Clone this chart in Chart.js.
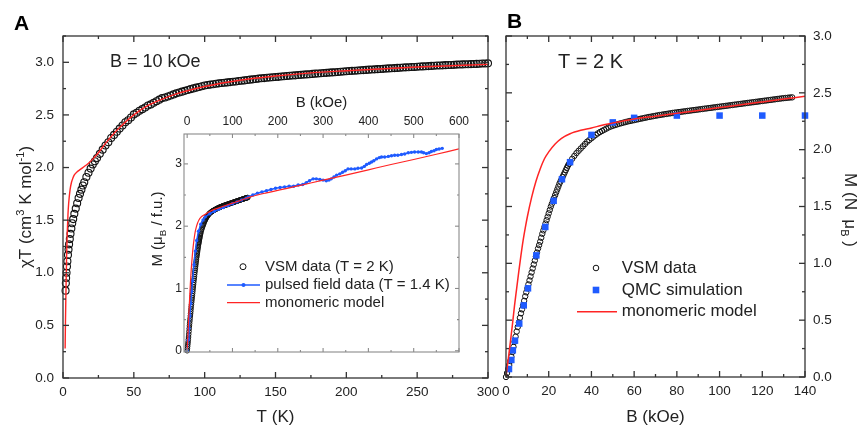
<!DOCTYPE html>
<html>
<head>
<meta charset="utf-8">
<script src="https://cdn.jsdelivr.net/npm/chart.js@4.4.0/dist/chart.umd.min.js"></script>
<style>
  body { margin: 0; background: #fff; }
  #wrap { position: relative; width: 858px; height: 428px; overflow: hidden; background: #fff; }
  canvas { position: absolute; }
</style>
</head>
<body>
<div id="wrap">
  <canvas id="chartA" width="500" height="428" style="left:0;top:0"></canvas>
  <canvas id="inset" width="330" height="270" style="left:140px;top:90px"></canvas>
  <canvas id="chartB" width="368" height="428" style="left:490px;top:0"></canvas>
</div>
<script>
const FONT = "'Liberation Sans', Arial, sans-serif";
const INK = '#222';
const RED = '#ff2424';
const BLUE = '#1f5bff';

// tick labels
const tickT = [0, 50, 100, 150, 200, 250, 300];
const tickChiT = [0, 0.5, 1, 1.5, 2, 2.5, 3];
const tickB = [0, 20, 40, 60, 80, 100, 120, 140];
const tickM = [0, 0.5, 1, 1.5, 2, 2.5, 3];
const tickInsetB = [0, 100, 200, 300, 400, 500, 600];
const tickInsetM = [0, 1, 2, 3];

// panel A: chi*T vs T, B = 10 kOe
const tempK = [1.8, 2.0, 2.2, 2.5, 2.8, 3.1, 3.5, 3.9, 4.3, 4.8,
  5.3, 5.9, 6.5, 7.2, 8, 9, 10, 11, 12, 13,
  14, 15, 16.5, 18, 19.5, 21, 22.5, 24, 26, 28,
  30, 32, 34, 36, 38, 40,
  42, 44, 46, 48, 50, 52, 54, 56, 58, 60,
  62, 64, 66, 68, 70, 72, 74, 76, 78, 80,
  82, 84, 86, 88, 90, 92, 94, 96, 98, 100,
  102, 104, 106, 108, 110, 112, 114, 116, 118, 120,
  122, 124, 126, 128, 130, 132, 134, 136, 138, 140,
  142, 144, 146, 148, 150, 152, 154, 156, 158, 160,
  162, 164, 166, 168, 170, 172, 174, 176, 178, 180,
  182, 184, 186, 188, 190, 192, 194, 196, 198, 200,
  202, 204, 206, 208, 210, 212, 214, 216, 218, 220,
  222, 224, 226, 228, 230, 232, 234, 236, 238, 240,
  242, 244, 246, 248, 250, 252, 254, 256, 258, 260,
  262, 264, 266, 268, 270, 272, 274, 276, 278, 280,
  282, 284, 286, 288, 290, 292, 294, 296, 298, 300];
const chiT = [0.83, 0.90, 0.95, 1.00, 1.06, 1.11, 1.17, 1.22, 1.27, 1.32,
  1.37, 1.42, 1.47, 1.51, 1.56, 1.61, 1.66, 1.71, 1.75, 1.79,
  1.83, 1.86, 1.91, 1.95, 1.99, 2.03, 2.06, 2.09, 2.13, 2.17,
  2.21, 2.24, 2.28, 2.31, 2.34, 2.37,
  2.40, 2.43, 2.45, 2.475, 2.505, 2.52, 2.54, 2.555, 2.57, 2.59,
  2.60, 2.615, 2.63, 2.645, 2.66, 2.665, 2.675, 2.685, 2.695, 2.705,
  2.713, 2.721, 2.729, 2.737, 2.745, 2.752, 2.759, 2.766, 2.773, 2.78,
  2.784, 2.788, 2.792, 2.796, 2.80, 2.803, 2.806, 2.809, 2.812, 2.815,
  2.818, 2.822, 2.825, 2.828, 2.832, 2.835, 2.838, 2.841, 2.845, 2.848,
  2.85, 2.853, 2.855, 2.858, 2.86, 2.862, 2.865, 2.867, 2.87, 2.872,
  2.874, 2.876, 2.879, 2.881, 2.883, 2.885, 2.887, 2.89, 2.892, 2.894,
  2.896, 2.898, 2.90, 2.902, 2.904, 2.906, 2.908, 2.91, 2.913, 2.915,
  2.917, 2.919, 2.92, 2.922, 2.924, 2.926, 2.928, 2.93, 2.931, 2.933,
  2.935, 2.937, 2.938, 2.94, 2.942, 2.943, 2.945, 2.947, 2.948, 2.95,
  2.952, 2.953, 2.955, 2.956, 2.958, 2.96, 2.961, 2.963, 2.964, 2.966,
  2.967, 2.969, 2.97, 2.971, 2.973, 2.974, 2.975, 2.976, 2.978, 2.979,
  2.98, 2.981, 2.982, 2.983, 2.984, 2.985, 2.987, 2.988, 2.989, 2.99];
const modelT = [1.5, 1.7, 2, 2.3, 2.6, 3, 3.5, 4, 5, 6, 7, 8, 10, 12, 15, 18,
  21, 25, 30, 35, 40, 50, 60, 70, 80, 100, 125, 150, 175, 200, 250, 300];
const modelChiT = [0.28, 0.5, 0.75, 0.98, 1.18, 1.38, 1.55, 1.66, 1.79, 1.86, 1.9, 1.93, 1.96, 1.98, 2.01, 2.04,
  2.08, 2.14, 2.23, 2.31, 2.38, 2.5, 2.59, 2.65, 2.7, 2.77, 2.83, 2.87, 2.9, 2.92, 2.955, 2.98];

// panel B and inset: M vs B at T = 2 K
const vsmB = [0, 0.5, 1, 1.5, 2, 2.5, 3, 3.5, 4, 4.5,
  5, 5.5, 6, 6.5, 7, 7.5, 8, 8.5, 9, 9.5,
  10, 10.5, 11, 11.5, 12, 12.5, 13, 13.5, 14, 14.5,
  15, 15.5, 16, 16.5, 17, 17.5, 18, 18.5, 19, 19.5,
  20, 20.5, 21, 21.5, 22, 22.5, 23, 23.5, 24, 24.5,
  25, 25.5, 26, 26.5, 27, 27.5, 28, 28.5, 29, 29.5,
  30, 31, 32, 33, 34, 35, 36, 37, 38, 39,
  40, 41, 42, 43, 44, 45, 46, 47, 48, 49,
  50, 51, 52, 53, 54, 55, 56, 57, 58, 59,
  60, 61, 62, 63, 64, 65, 66, 67, 68, 69,
  70, 71, 72, 73, 74, 75, 76, 77, 78, 79,
  80, 81, 82, 83, 84, 85, 86, 87, 88, 89,
  90, 91, 92, 93, 94, 95, 96, 97, 98, 99,
  100, 101, 102, 103, 104, 105, 106, 107, 108, 109,
  110, 111, 112, 113, 114, 115, 116, 117, 118, 119,
  120, 121, 122, 123, 124, 125, 126, 127, 128, 129,
  130, 131, 132, 133, 134];
const vsmM = [0, 0.035, 0.07, 0.105, 0.14, 0.18, 0.22, 0.265, 0.31, 0.355,
  0.40, 0.44, 0.48, 0.52, 0.56, 0.595, 0.63, 0.67, 0.71, 0.745,
  0.78, 0.815, 0.85, 0.885, 0.92, 0.955, 0.99, 1.025, 1.06, 1.095,
  1.13, 1.16, 1.19, 1.225, 1.26, 1.29, 1.32, 1.35, 1.38, 1.41,
  1.44, 1.47, 1.50, 1.525, 1.55, 1.575, 1.60, 1.625, 1.65, 1.675,
  1.70, 1.72, 1.74, 1.76, 1.78, 1.80, 1.82, 1.84, 1.86, 1.875,
  1.89, 1.92, 1.945, 1.97, 1.99, 2.01, 2.03, 2.05, 2.07, 2.085,
  2.10, 2.115, 2.13, 2.143, 2.155, 2.165, 2.175, 2.185, 2.195, 2.203,
  2.21, 2.216, 2.222, 2.228, 2.233, 2.238, 2.243, 2.248, 2.252, 2.256,
  2.26, 2.264, 2.268, 2.272, 2.276, 2.28, 2.284, 2.288, 2.291, 2.295,
  2.298, 2.302, 2.305, 2.308, 2.311, 2.314, 2.317, 2.32, 2.323, 2.326,
  2.328, 2.331, 2.333, 2.336, 2.338, 2.341, 2.343, 2.346, 2.348, 2.351,
  2.353, 2.356, 2.358, 2.361, 2.363, 2.366, 2.368, 2.371, 2.373, 2.376,
  2.378, 2.381, 2.383, 2.386, 2.388, 2.391, 2.393, 2.396, 2.398, 2.401,
  2.403, 2.406, 2.408, 2.411, 2.413, 2.416, 2.418, 2.421, 2.423, 2.426,
  2.428, 2.431, 2.433, 2.436, 2.438, 2.441, 2.443, 2.446, 2.448, 2.451,
  2.453, 2.455, 2.457, 2.459, 2.46];
const qmcB = [1.4, 2.5, 3.2, 4.2, 6.2, 8.3, 10.3, 14.2, 18.4, 22.3, 26.2, 30, 40, 50, 60, 80, 100, 120, 140];
const qmcM = [0.07, 0.15, 0.235, 0.32, 0.47, 0.63, 0.78, 1.07, 1.32, 1.55, 1.74, 1.89, 2.13, 2.24, 2.28, 2.30, 2.30, 2.30, 2.30];
const modelB = [0, 1, 2, 3, 4, 5, 6, 7, 8, 9, 10, 12, 14, 16, 18, 20,
  23, 26, 30, 35, 40, 45, 50, 60, 70, 80, 90, 100, 110, 120, 130, 140];
const modelM = [0, 0.15, 0.3, 0.46, 0.63, 0.78, 0.93, 1.07, 1.2, 1.31, 1.41, 1.58, 1.72, 1.83, 1.92, 1.98,
  2.05, 2.1, 2.14, 2.17, 2.19, 2.215, 2.235, 2.27, 2.295, 2.32, 2.345, 2.37, 2.395, 2.42, 2.445, 2.47];
// inset only: model above 140 kOe and pulsed field data (T = 1.4 K)
const modelHighB = [175, 250, 300, 350, 400, 450, 500, 550, 600];
const modelHighM = [2.535, 2.655, 2.74, 2.82, 2.905, 2.99, 3.07, 3.155, 3.24];
const pulsedB = [0, 2, 4, 6, 8, 10, 12, 15, 18, 21, 25, 30, 35, 40, 50, 60, 70, 80, 90, 100, 110, 120, 130,
  135, 145, 155, 165, 175, 185, 195, 205, 215, 225,
  235, 245, 255, 263, 270, 278, 285, 293, 300, 307,
  313, 318, 324, 330, 337, 343, 349, 355, 362, 370,
  377, 385, 391, 396, 402, 407, 412, 418, 424, 429,
  436, 444, 451, 458, 465, 473, 480, 488, 495, 502,
  510, 517, 522, 528, 534, 539, 545, 550, 556, 563];
const pulsedM = [0, 0.17, 0.36, 0.56, 0.76, 0.95, 1.12, 1.38, 1.6, 1.77, 1.92, 2.03, 2.1, 2.15, 2.2, 2.24, 2.27, 2.3, 2.33, 2.36, 2.39, 2.42, 2.45,
  2.47, 2.50, 2.53, 2.55, 2.57, 2.59, 2.61, 2.62, 2.63, 2.64,
  2.64, 2.66, 2.67, 2.70, 2.73, 2.76, 2.76, 2.75, 2.74, 2.73,
  2.74, 2.76, 2.79, 2.82, 2.84, 2.865, 2.89, 2.92, 2.92, 2.92,
  2.93, 2.935, 2.96, 2.99, 3.01, 3.03, 3.05, 3.08, 3.10, 3.11,
  3.11, 3.12, 3.13, 3.14, 3.14, 3.15, 3.16, 3.18, 3.185, 3.19,
  3.19, 3.19, 3.18, 3.165, 3.18, 3.2, 3.21, 3.23, 3.24, 3.25];

function pts(xs, ys) {
  return xs.map((x, i) => ({ x: x, y: ys[i] }));
}

function font(size, bold) {
  return (bold ? 'bold ' : '') + size + 'px ' + FONT;
}

// text with sub/superscripts, centred on x,y, rotated
function richText(ctx, parts, x, y, rot, size) {
  ctx.save();
  ctx.translate(x, y);
  ctx.rotate(rot);
  ctx.fillStyle = INK;
  ctx.textBaseline = 'alphabetic';
  let w = 0;
  parts.forEach(p => {
    ctx.font = font(p[1] ? size * 0.65 : size);
    w += ctx.measureText(p[0]).width;
  });
  let cx = -w / 2;
  parts.forEach(p => {
    ctx.font = font(p[1] ? size * 0.65 : size);
    let dy = size * 0.36;
    if (p[1] === 'sup') dy -= size * 0.42;
    if (p[1] === 'sub') dy += size * 0.22;
    ctx.fillText(p[0], cx, dy);
    cx += ctx.measureText(p[0]).width;
  });
  ctx.restore();
}

// frame + inward major/minor ticks on every side
function makeFrame(cfg) {
  return {
    id: 'frame',
    afterDatasetsDraw(chart) {
      const ctx = chart.ctx;
      const a = chart.chartArea;
      ctx.save();
      ctx.strokeStyle = cfg.color;
      ctx.lineWidth = cfg.width;
      ctx.strokeRect(a.left, a.top, a.right - a.left, a.bottom - a.top);
      cfg.sides.forEach(s => {
        const sc = chart.scales[s.scale];
        for (let k = Math.ceil(sc.min / s.minor - 1e-9); k * s.minor <= sc.max + 1e-9; k++) {
          const v = k * s.minor;
          const r = v / s.major;
          const len = Math.abs(r - Math.round(r)) < 1e-6 ? cfg.majorLen : cfg.minorLen;
          const p = sc.getPixelForValue(v);
          ctx.beginPath();
          if (s.edge === 'bottom') { ctx.moveTo(p, a.bottom); ctx.lineTo(p, a.bottom - len); }
          if (s.edge === 'top') { ctx.moveTo(p, a.top); ctx.lineTo(p, a.top + len); }
          if (s.edge === 'left') { ctx.moveTo(a.left, p); ctx.lineTo(a.left + len, p); }
          if (s.edge === 'right') { ctx.moveTo(a.right, p); ctx.lineTo(a.right - len, p); }
          ctx.stroke();
        }
      });
      ctx.restore();
    }
  };
}

// labels, annotations, titles with subscripts, legends
function makeDeco(cfg) {
  return {
    id: 'deco',
    afterDraw(chart) {
      const ctx = chart.ctx;
      ctx.save();
      (cfg.texts || []).forEach(t => {
        ctx.font = font(t.size, t.bold);
        ctx.fillStyle = t.color || INK;
        ctx.textAlign = 'left';
        ctx.textBaseline = 'middle';
        ctx.fillText(t.text, t.x, t.y);
      });
      (cfg.rich || []).forEach(r => richText(ctx, r.parts, r.x, r.y, r.rot, r.size));
      (cfg.legend || []).forEach(it => {
        ctx.lineWidth = 1;
        if (it.kind === 'circle') {
          ctx.strokeStyle = '#111';
          ctx.beginPath();
          ctx.arc(it.mx, it.y, it.r, 0, Math.PI * 2);
          ctx.stroke();
        } else if (it.kind === 'square') {
          ctx.fillStyle = it.color;
          ctx.fillRect(it.mx - it.r, it.y - it.r, it.r * 2, it.r * 2);
        } else {
          ctx.strokeStyle = it.color;
          ctx.lineWidth = it.lw;
          ctx.beginPath();
          ctx.moveTo(it.x1, it.y);
          ctx.lineTo(it.x2, it.y);
          ctx.stroke();
          if (it.dot) {
            ctx.fillStyle = it.color;
            ctx.beginPath();
            ctx.arc((it.x1 + it.x2) / 2, it.y, it.dot, 0, Math.PI * 2);
            ctx.fill();
          }
        }
        ctx.font = font(it.size);
        ctx.fillStyle = INK;
        ctx.textAlign = 'left';
        ctx.textBaseline = 'middle';
        ctx.fillText(it.text, it.tx, it.y);
      });
      ctx.restore();
    }
  };
}

function axis(opts, tickValues) {
  return Object.assign({
    type: 'linear',
    grid: { display: false, drawTicks: false },
    border: { display: false },
    afterBuildTicks: s => { s.ticks = tickValues.map(v => ({ value: v })); }
  }, opts);
}

const quiet = {
  responsive: false,
  animation: false,
  events: [],
  plugins: { legend: { display: false }, tooltip: { enabled: false } }
};

// ---------- panel A ----------
new Chart(document.getElementById('chartA'), {
  type: 'scatter',
  data: {
    datasets: [
      {
        data: pts(modelT, modelChiT), showLine: true, borderColor: RED, borderWidth: 1.4,
        pointRadius: 0, cubicInterpolationMode: 'monotone', order: 0
      },
      {
        data: pts(tempK, chiT), pointStyle: 'circle', pointRadius: 3.5, borderWidth: 1.1,
        borderColor: '#111', backgroundColor: 'rgba(0,0,0,0)', order: 1, clip: false
      }
    ]
  },
  options: Object.assign({}, quiet, {
    layout: { padding: { left: 0, top: 36, right: 12, bottom: 0 } },
    scales: {
      x: axis({
        position: 'bottom', min: 0, max: 300,
        ticks: { padding: 6, color: INK, font: { family: FONT, size: 13.5 } },
        title: { display: true, text: 'T (K)', color: INK, padding: 0, font: { family: FONT, size: 17 } },
        afterFit: s => { s.height = 50; s.paddingLeft = 0; s.paddingRight = 0; }
      }, tickT),
      y: axis({
        position: 'left', min: 0, max: 3.25,
        ticks: { padding: 9, color: INK, font: { family: FONT, size: 13.5 }, callback: v => v.toFixed(1) },
        afterFit: s => { s.width = 63; s.paddingTop = 0; s.paddingBottom = 0; }
      }, tickChiT)
    }
  }),
  plugins: [
    makeFrame({
      color: '#333', width: 1.3, majorLen: 6, minorLen: 3,
      sides: [
        { scale: 'x', edge: 'bottom', major: 50, minor: 25 },
        { scale: 'x', edge: 'top', major: 50, minor: 25 },
        { scale: 'y', edge: 'left', major: 0.5, minor: 0.25 },
        { scale: 'y', edge: 'right', major: 0.5, minor: 0.25 }
      ]
    }),
    makeDeco({
      texts: [
        { text: 'A', x: 14, y: 24, size: 21, bold: true, color: '#000' },
        { text: 'B = 10 kOe', x: 110, y: 62, size: 18 }
      ],
      rich: [
        { parts: [['χT (cm'], ['3', 'sup'], [' K mol'], ['-1', 'sup'], [')']], x: 25, y: 207, rot: -Math.PI / 2, size: 17 }
      ]
    })
  ]
});

// ---------- inset ----------
new Chart(document.getElementById('inset'), {
  type: 'scatter',
  data: {
    datasets: [
      {
        data: pts(modelB.concat(modelHighB), modelM.concat(modelHighM)), showLine: true, borderColor: RED,
        borderWidth: 1.2, pointRadius: 0, cubicInterpolationMode: 'monotone', order: 0
      },
      {
        data: pts(pulsedB, pulsedM), showLine: true, borderColor: BLUE, borderWidth: 1.5,
        pointRadius: 1.7, pointBorderWidth: 0, pointBackgroundColor: BLUE, order: 1
      },
      {
        data: pts(vsmB, vsmM), pointStyle: 'circle', pointRadius: 2.3, borderWidth: 1,
        borderColor: '#111', backgroundColor: 'rgba(0,0,0,0)', order: 2, clip: false
      }
    ]
  },
  options: Object.assign({}, quiet, {
    layout: { padding: { left: 0, top: 0, right: 11, bottom: 8 } },
    scales: {
      x: axis({
        position: 'top', min: -7, max: 600,
        ticks: { padding: 5, color: INK, font: { family: FONT, size: 12 } },
        title: { display: true, text: 'B (kOe)', color: INK, padding: { top: 4, bottom: 0 }, font: { family: FONT, size: 15 } },
        afterFit: s => { s.height = 44; s.paddingLeft = 0; s.paddingRight = 0; }
      }, tickInsetB),
      y: axis({
        position: 'left', min: -0.02, max: 3.48,
        ticks: { padding: 2, color: INK, font: { family: FONT, size: 12 } },
        afterFit: s => { s.width = 44; s.paddingTop = 0; s.paddingBottom = 0; }
      }, tickInsetM)
    }
  }),
  plugins: [
    makeFrame({
      color: '#8a8a8a', width: 1.1, majorLen: 4, minorLen: 2,
      sides: [
        { scale: 'x', edge: 'bottom', major: 100, minor: 50 },
        { scale: 'x', edge: 'top', major: 100, minor: 50 },
        { scale: 'y', edge: 'left', major: 1, minor: 0.5 },
        { scale: 'y', edge: 'right', major: 1, minor: 0.5 }
      ]
    }),
    makeDeco({
      rich: [
        { parts: [['M (μ'], ['B', 'sub'], [' / f.u.)']], x: 17, y: 139, rot: -Math.PI / 2, size: 15 }
      ],
      legend: [
        { kind: 'circle', mx: 103, r: 3, y: 176.7, tx: 125, size: 15, text: 'VSM data (T = 2 K)' },
        { kind: 'line', x1: 87, x2: 120, lw: 1.5, dot: 2, color: BLUE, y: 195, tx: 125, size: 15, text: 'pulsed field data (T = 1.4 K)' },
        { kind: 'line', x1: 87, x2: 120, lw: 1.2, color: RED, y: 212.7, tx: 125, size: 15, text: 'monomeric model' }
      ]
    })
  ]
});

// ---------- panel B ----------
new Chart(document.getElementById('chartB'), {
  type: 'scatter',
  data: {
    datasets: [
      {
        data: pts(modelB, modelM), showLine: true, borderColor: RED, borderWidth: 1.5,
        pointRadius: 0, cubicInterpolationMode: 'monotone', order: 0
      },
      {
        data: pts(qmcB, qmcM), pointStyle: 'rect', pointRadius: 4.6, borderWidth: 0,
        backgroundColor: BLUE, order: 1, clip: false
      },
      {
        data: pts(vsmB, vsmM), pointStyle: 'circle', pointRadius: 2.7, borderWidth: 1,
        borderColor: '#111', backgroundColor: 'rgba(0,0,0,0)', order: 2, clip: false
      }
    ]
  },
  options: Object.assign({}, quiet, {
    layout: { padding: { left: 16, top: 36, right: 0, bottom: 0 } },
    scales: {
      x: axis({
        position: 'bottom', min: 0, max: 140,
        ticks: { padding: 6, color: INK, font: { family: FONT, size: 13.5 } },
        title: { display: true, text: 'B (kOe)', color: INK, padding: 0, font: { family: FONT, size: 17 } },
        afterFit: s => { s.height = 51; s.paddingLeft = 0; s.paddingRight = 0; }
      }, tickB),
      y: axis({
        position: 'right', min: 0, max: 3,
        ticks: { padding: 8, color: INK, font: { family: FONT, size: 13.5 }, callback: v => v.toFixed(1) },
        afterFit: s => { s.width = 53; s.paddingTop = 0; s.paddingBottom = 0; }
      }, tickM)
    }
  }),
  plugins: [
    makeFrame({
      color: '#333', width: 1.3, majorLen: 6, minorLen: 3,
      sides: [
        { scale: 'x', edge: 'bottom', major: 20, minor: 10 },
        { scale: 'x', edge: 'top', major: 20, minor: 10 },
        { scale: 'y', edge: 'left', major: 0.5, minor: 0.25 },
        { scale: 'y', edge: 'right', major: 0.5, minor: 0.25 }
      ]
    }),
    makeDeco({
      texts: [
        { text: 'B', x: 17, y: 22, size: 21, bold: true, color: '#000' },
        { text: 'T = 2 K', x: 68, y: 62, size: 20 }
      ],
      rich: [
        { parts: [['M (N  μ'], ['B', 'sub'], [' )']], x: 361, y: 210, rot: Math.PI / 2, size: 17 }
      ],
      legend: [
        { kind: 'circle', mx: 106, r: 2.8, y: 268, tx: 131.7, size: 17, text: 'VSM data' },
        { kind: 'square', mx: 106, r: 3.3, color: BLUE, y: 290, tx: 131.7, size: 17, text: 'QMC simulation' },
        { kind: 'line', x1: 87, x2: 127, lw: 1.6, color: RED, y: 311.7, tx: 131.7, size: 17, text: 'monomeric model' }
      ]
    })
  ]
});
</script>
</body>
</html>
